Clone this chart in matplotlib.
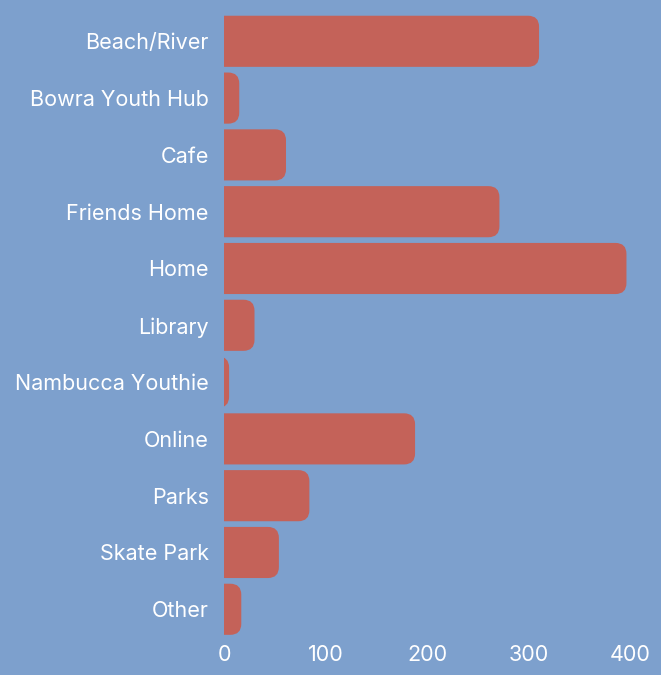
import matplotlib
matplotlib.use("Agg")
import matplotlib.pyplot as plt
from matplotlib.patches import FancyBboxPatch

# data
places = ["Beach/River", "Bowra Youth Hub", "Cafe", "Friends Home", "Home", "Library",
          "Nambucca Youthie", "Online", "Parks", "Skate Park", "Other"]
counts = [310, 15, 61, 271, 396, 30, 5, 188, 84, 54, 17]
xticks = [0, 100, 200, 300, 400]

bg = "#7DA0CD"
bar_col = "#C46259"

plt.rcParams["font.family"] = ["Inter", "DejaVu Sans"]

fig = plt.figure(figsize=(6.61, 6.75), dpi=100, facecolor=bg)
ax = fig.add_axes([0.3389, 0.0553, 0.6150, 0.9256])
ax.set_facecolor(bg)

ypos = list(range(len(places)))
bars = ax.barh(ypos, counts, height=0.9, color=bar_col)
ax.set_xlim(0, 400)
ax.set_ylim(len(places) - 0.5, -0.5)

# swap the plain bars for ones rounded on the right end
fig.canvas.draw()
px_x = ax.transData.transform((1, 0))[0] - ax.transData.transform((0, 0))[0]
px_y = abs(ax.transData.transform((0, 1))[1] - ax.transData.transform((0, 0))[1])
r = 11 / px_x
for b in bars:
    x0, y0 = b.get_x(), b.get_y()
    w, h = b.get_width(), b.get_height()
    b.remove()
    p = FancyBboxPatch((x0 - 3 * r, y0), w + 3 * r, h,
                       boxstyle=f"round,pad=0,rounding_size={r}",
                       mutation_aspect=px_x / px_y,
                       facecolor=bar_col, edgecolor="none")
    ax.add_patch(p)

ax.set_yticks(ypos)
ax.set_yticklabels(places)
ax.set_xticks(xticks)
ax.tick_params(length=0, colors="white", labelsize=15.5)
ax.tick_params(axis="y", pad=11)
ax.tick_params(axis="x", pad=5)
for s in ax.spines.values():
    s.set_visible(False)

fig.savefig("out.png", dpi=100, facecolor=bg)
